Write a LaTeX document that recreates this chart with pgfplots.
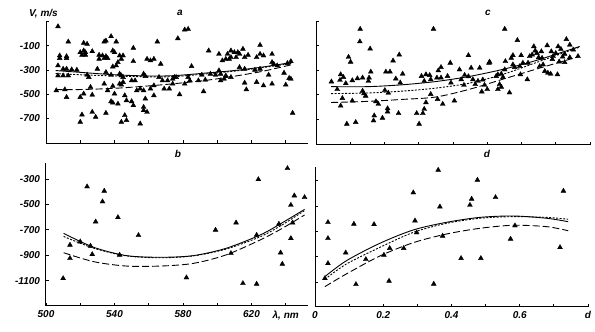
\documentclass[border=0pt]{standalone}
\usepackage{fontspec}
\setmainfont{Liberation Sans}
\usepackage{pgfplots}
\pgfplotsset{compat=1.18}

\pgfplotsset{
  panel/.style={
    scale only axis, anchor=south west,
    axis x line*=bottom, axis y line*=left,
    axis line style={-, line width=1pt},
    tick align=inside, major tick length=3pt,
    tick style={black, line width=0.8pt},
    ticklabel style={font=\fontsize{10}{11}\selectfont\bfseries\itshape},
    xticklabel style={yshift=-1.5pt},
    yticklabel style={xshift=-2.5pt},
    clip=false,
  },
  pts/.style={only marks, mark=triangle*, mark size=2.8pt, black},
  solidfit/.style={black, line width=0.9pt, smooth, no marks},
  shortfit/.style={black, line width=0.9pt, smooth, no marks, dash pattern=on 2pt off 1.5pt},
  longfit/.style={black, line width=0.9pt, smooth, no marks, dash pattern=on 7pt off 3pt},
}

\begin{document}
\begin{tikzpicture}
\path[use as bounding box] (0,0) rectangle (595pt,332pt);

% ---- a ----
\begin{axis}[panel, at={(46pt,188.7pt)}, width=262pt, height=121.8pt,
  xmin=500, xmax=653, ymin=-906, ymax=100,
  xtick={500,520,540,560,580,600,620,640}, xticklabels={},
  ytick={-700,-500,-300,-100,100}, yticklabels={-700,-500,-300,-100,}]
\addplot[pts] coordinates {
(507,59)(513,-67)(522,-78)(524,-86)(534,-67)(535,-59)(538,-23)(541,-67)(539,-141)(551,-119)
(565,-67)(508,-182)(508,-204)(512,-204)(512,-188)(520,-155)(522,-141)(523,-155)(527,-147)(521,-177)
(523,-177)(531,-177)(533,-182)(535,-188)(536,-204)(531,-210)(534,-204)(540,-155)(543,-182)(544,-210)
(545,-182)(542,-237)(541,-264)(539,-273)(551,-229)(559,-210)(561,-223)(563,-210)(567,-251)(507,-264)
(510,-292)(512,-292)(515,-297)(518,-300)(530,-292)(524,-341)(525,-360)(507,-347)(510,-347)(513,-347)
(526,-442)(535,-319)(538,-341)(543,-333)(544,-347)(545,-360)(534,-415)(543,-415)(545,-401)(539,-434)
(557,-333)(558,-352)(550,-388)(552,-388)(566,-360)(568,-388)(571,-388)(574,-374)(574,-415)(572,-456)
(569,-456)(563,-429)(561,-456)(555,-456)(557,-470)(553,-470)(506,-470)(511,-462)(512,-525)(520,-525)
(522,-497)(527,-506)(536,-470)(540,-497)(546,-511)(544,-423)(538,-560)(539,-571)(542,-580)(547,-552)
(550,-560)(551,-593)(558,-538)(557,-607)(559,-648)(557,-634)(563,-511)(521,-670)(527,-648)(529,-689)
(535,-656)(520,-730)(544,-730)(547,-716)(546,-675)(555,-744)
(577,-40)(581,32)(583,37)(595,-141)(601,-169)(606,-169)(608,-141)(610,-155)(612,-155)(613,-169)
(615,-127)(618,-177)(625,-95)(625,-169)(627,-182)(632,-169)(603,-223)(605,-210)(607,-210)(608,-196)
(611,-196)(616,-196)(623,-196)(585,-270)(601,-305)(602,-333)(605,-347)(613,-278)(616,-292)(622,-300)
(625,-292)(632,-237)(633,-251)(635,-264)(641,-245)(643,-229)(575,-360)(576,-360)(583,-360)(591,-341)
(596,-333)(599,-341)(604,-374)(581,-415)(584,-388)(589,-388)(593,-382)(578,-503)(592,-478)(602,-388)
(608,-360)(616,-407)(617,-462)(623,-401)(627,-429)(630,-341)(632,-415)(639,-325)(640,-423)(642,-368)
(643,-374)(644,-656)
};
\addplot[solidfit] coordinates {(505.6,-305)(520,-320)(540,-340)(560,-350)(575,-347)(594,-325)(610,-305)(627,-275)(644,-237)};
\addplot[shortfit] coordinates {(505.6,-330)(520,-340)(540,-350)(560,-357)(575,-355)(594,-332)(610,-310)(627,-280)(644,-245)};
\addplot[longfit] coordinates {(505.6,-462)(520,-462)(540,-452)(560,-432)(576,-412)(594,-385)(610,-352)(627,-310)(644,-255)};
\end{axis}

% ---- b ----
\begin{axis}[panel, at={(46pt,26.3pt)}, width=262pt, height=142.7pt,
  xmin=500, xmax=653, ymin=-1297, ymax=-174,
  xtick={500,520,540,560,580,600,620,640}, xticklabels={500,,540,,580,,620,{λ, nm}},
  ytick={-1100,-900,-700,-500,-300}, yticklabels={-1100,-900,-700,-500,-300}]
\addplot[pts] coordinates {
(510,-1082)(514,-819)(514,-924)(524,-360)(534,-394)(533,-478)(529,-636)(520,-793)(526,-827)(527,-893)
(542,-602)(543,-898)(554,-743)(582,-1076)(599,-701)(608,-885)(611,-644)(615,-1121)(623,-1126)(623,-741)
(624,-303)(636,-654)(637,-880)(638,-969)(641,-216)(643,-505)(643,-767)(644,-644)(645,-431)(651,-444)
};
\addplot[solidfit] coordinates {(510.3,-728)(528,-838)(547,-903)(567,-916)(586,-903)(605,-846)(625,-741)(638,-644)(651,-539)};
\addplot[shortfit] coordinates {(510.3,-752)(528,-845)(547,-905)(567,-920)(586,-905)(605,-852)(625,-755)(638,-660)(651,-548)};
\addplot[longfit] coordinates {(510.3,-880)(528,-951)(547,-985)(567,-985)(586,-964)(605,-898)(625,-780)(638,-688)(651,-583)};
\end{axis}

% ---- c ----
\begin{axis}[panel, at={(316pt,187pt)}, width=274pt, height=123.5pt,
  xmin=0, xmax=0.8, ymin=-914, ymax=100,
  xtick={0.1,0.2,0.3,0.4,0.5,0.6,0.7,0.8}, xticklabels={},
  ytick={-700,-500,-300,-100,100}, yticklabels={}]
\addplot[pts] coordinates {
(0.129,38)(0.128,-65)(0.158,-124)(0.095,-192)(0.101,-232)(0.243,-173)(0.225,-222)(0.343,38)(0.392,-240)(0.365,-276)
(0.357,-303)(0.045,-394)(0.072,-335)(0.080,-357)(0.087,-408)(0.070,-381)(0.106,-384)(0.121,-368)(0.136,-362)(0.155,-362)
(0.153,-389)(0.160,-313)(0.204,-313)(0.216,-313)(0.233,-370)(0.253,-330)(0.246,-403)(0.201,-465)(0.211,-486)(0.062,-457)
(0.077,-530)(0.072,-592)(0.106,-551)(0.136,-470)(0.140,-492)(0.145,-511)(0.175,-557)(0.182,-578)(0.209,-614)(0.209,-641)
(0.170,-673)(0.168,-714)(0.194,-692)(0.241,-654)(0.090,-741)(0.116,-727)(0.308,-349)(0.321,-335)(0.332,-341)(0.335,-376)
(0.316,-389)(0.353,-362)(0.365,-362)(0.384,-349)(0.335,-497)(0.321,-565)(0.316,-619)(0.294,-654)(0.312,-654)(0.301,-741)
(0.355,-538)(0.370,-578)(0.394,-403)(0.404,-551)
(0.551,38)(0.588,-54)(0.445,-178)(0.507,-232)(0.575,-178)(0.599,-178)(0.636,-105)(0.640,-140)(0.631,-173)(0.650,-195)
(0.658,-146)(0.675,-97)(0.687,-146)(0.692,-186)(0.707,-105)(0.715,-127)(0.731,-46)(0.741,-92)(0.726,-167)(0.751,-132)
(0.741,-195)(0.726,-235)(0.765,-186)(0.705,-335)(0.668,-308)(0.677,-322)(0.685,-330)(0.653,-268)(0.663,-254)(0.619,-240)
(0.624,-186)(0.604,-240)(0.595,-268)(0.575,-254)(0.570,-200)(0.580,-276)(0.553,-227)(0.551,-295)(0.541,-330)(0.546,-357)
(0.526,-349)(0.531,-335)(0.536,-416)(0.541,-438)(0.565,-484)(0.531,-457)(0.505,-240)(0.478,-281)(0.453,-281)(0.419,-295)
(0.434,-340)(0.445,-351)(0.458,-376)(0.473,-389)(0.487,-378)(0.492,-422)(0.500,-457)(0.484,-476)(0.465,-416)(0.432,-422)
(0.424,-376)(0.617,-376)(0.597,-335)(0.645,-160)(0.700,-160)(0.720,-190)(0.690,-210)(0.660,-200)(0.710,-230)
};
\addplot[solidfit] coordinates {(0.044,-435)(0.15,-435)(0.25,-420)(0.35,-393)(0.45,-350)(0.55,-290)(0.65,-214)(0.77,-105)};
\addplot[shortfit] coordinates {(0.044,-492)(0.15,-487)(0.25,-472)(0.35,-447)(0.45,-405)(0.55,-330)(0.65,-230)(0.77,-110)};
\addplot[longfit] coordinates {(0.044,-565)(0.15,-556)(0.25,-540)(0.35,-520)(0.45,-455)(0.55,-370)(0.65,-285)(0.77,-186)};
\end{axis}

% ---- d ----
\begin{axis}[panel, at={(315pt,25.3pt)}, width=273pt, height=140pt,
  xmin=0, xmax=0.8, ymin=-1292, ymax=-190,
  xtick={0,0.1,0.2,0.3,0.4,0.5,0.6,0.7,0.8}, xticklabels={0,,0.2,,0.4,,0.6,,d},
  ytick={-1100,-900,-700,-500,-300}, yticklabels={}]
\addplot[pts] coordinates {
(0.038,-628)(0.038,-754)(0.038,-951)(0.029,-1069)(0.090,-867)(0.114,-641)(0.120,-1116)(0.149,-919)(0.173,-644)(0.202,-885)
(0.217,-1090)(0.219,-832)(0.260,-832)(0.288,-394)(0.293,-615)(0.298,-709)(0.348,-1113)(0.361,-216)(0.366,-505)(0.374,-735)
(0.428,-911)(0.454,-492)(0.459,-444)(0.476,-295)(0.486,-911)(0.529,-431)(0.573,-759)(0.586,-654)(0.718,-825)(0.728,-381)
};
\addplot[solidfit] coordinates {(0.029,-1055)(0.092,-930)(0.19,-793)(0.288,-688)(0.385,-628)(0.483,-589)(0.581,-578)(0.679,-596)(0.742,-623)};
\addplot[shortfit] coordinates {(0.029,-1076)(0.092,-956)(0.19,-825)(0.288,-707)(0.385,-636)(0.483,-596)(0.581,-583)(0.679,-589)(0.742,-604)};
\addplot[longfit] coordinates {(0.029,-1134)(0.092,-1034)(0.19,-893)(0.288,-788)(0.385,-720)(0.483,-675)(0.581,-651)(0.679,-662)(0.742,-694)};
\end{axis}

\begin{scope}[font=\fontsize{10}{11}\selectfont\bfseries\itshape]
\node at (43.5pt,318.7pt) {V, m/s};
\node at (180pt,319pt) {a};
\node at (178pt,178pt) {b};
\node at (488pt,319pt) {c};
\node at (487pt,178pt) {d};
\end{scope}
\end{tikzpicture}
\end{document}
